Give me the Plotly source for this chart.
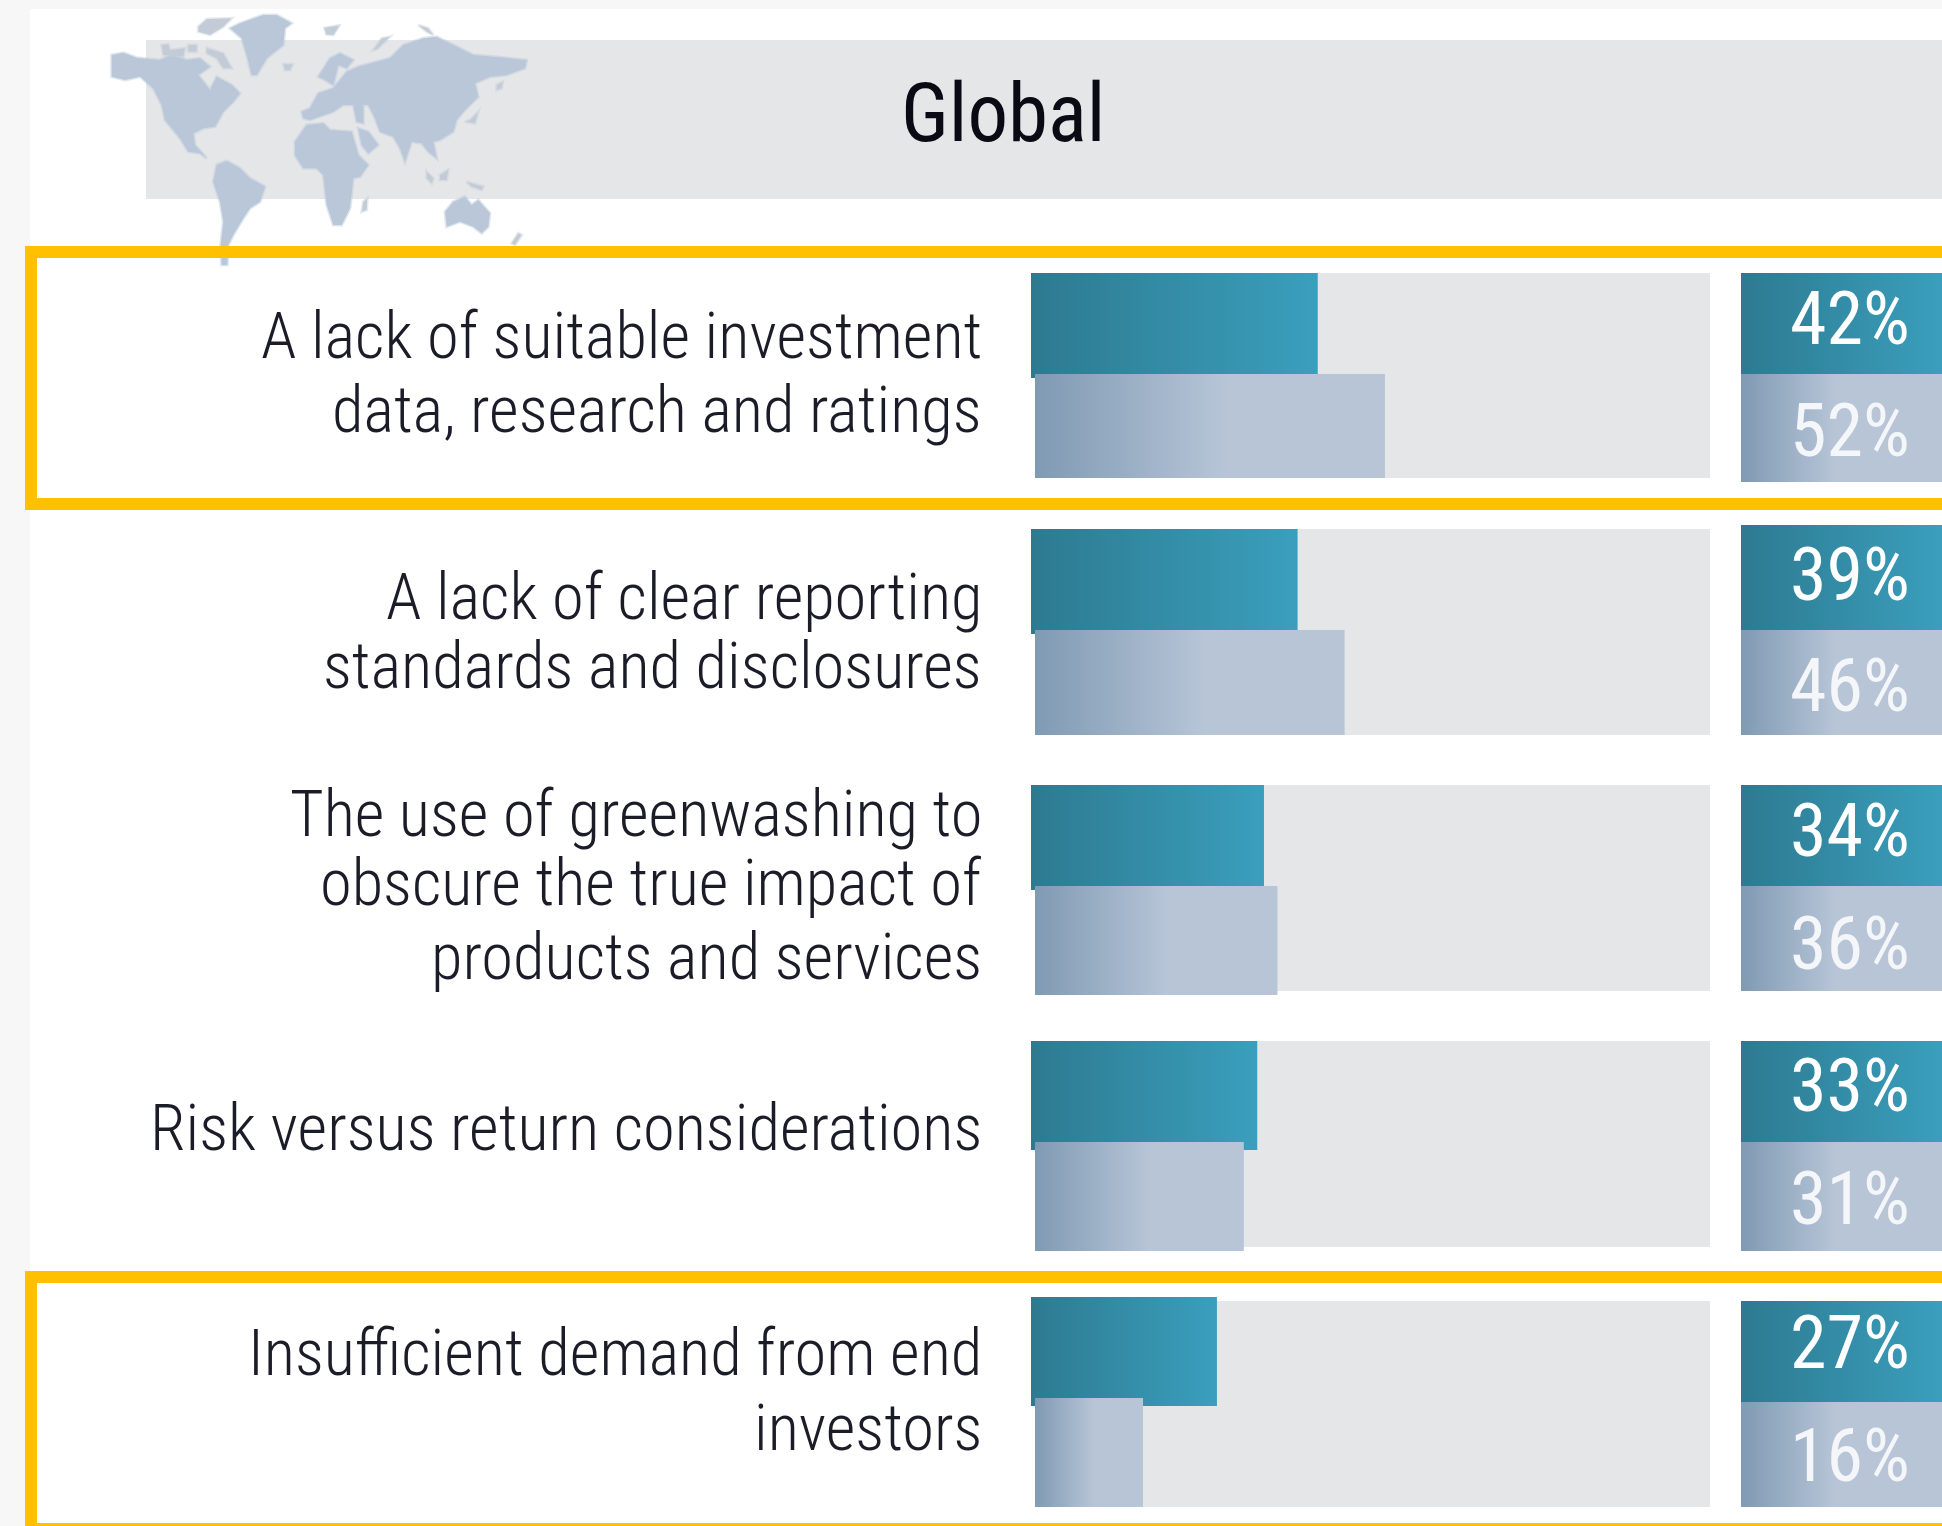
import plotly.graph_objects as go

W, H = 1942, 1526

# ---- data ----
categories = [
    "A lack of suitable investment<br>data, research and ratings",
    "A lack of clear reporting<br>standards and disclosures",
    "The use of greenwashing to<br>obscure the true impact of<br>products and services",
    "Risk versus return considerations",
    "Insufficient demand from end<br>investors",
]
series_a = [42, 39, 34, 33, 27]
series_b = [52, 46, 36, 31, 16]
title = "Global"

# ---- layout constants (pixels of the page) ----
X0, PX_PER_PCT = 1035.5, 6.72
TEAL_BASE_PX = 1031
TRACK_L = 1035
TRACK_R = 1710
BOX_L = 1741
TRACK_Y = [(273, 478), (529, 735), (785, 991), (1041, 1247), (1301, 1507)]
TEAL_Y = [(273, 378), (529, 634), (785, 890), (1041, 1150), (1297, 1406)]
BLUE_Y = [(374, 478), (630, 735), (886, 995), (1142, 1251), (1398, 1507)]
BOX_A_Y = [(273, 374), (525, 630), (785, 886), (1041, 1142), (1301, 1402)]
BOX_B_Y = [(374, 482), (630, 735), (886, 991), (1142, 1251), (1402, 1507)]
PCT_A_YC = [318, 574, 830, 1085, 1342]
PCT_B_YC = [430, 685, 943, 1198, 1455]
LINE_YC = [[336, 410], [597, 666], [814, 883, 957], [1128], [1353, 1428]]
LABEL_R = 984

TEAL_GRAD = [[0, "#2d7a90"], [1, "#3a9fbd"]]
BLUE_GRAD = [[0, "#7f9ab3"], [0.55, "#b7c5d7"], [1, "#b7c5d7"]]
TRACK = "#e5e6e8"
YELLOW = "#ffc000"
MAP = "#b9c7d9"
MAP2 = "#c3ccd6"

FONT = "Roboto Condensed, Liberation Sans Narrow, Arial Narrow, Roboto, sans-serif"


def px_to_val(px):
    return (px - X0) / PX_PER_PCT


west = [
    [(35,150),(70,143),(110,158),(180,165),(215,150),(260,165),(300,160),(330,185),(295,210),(330,255),(350,215),(395,240),(420,265),(400,290),(370,320),(345,365),(310,370),(280,385),(285,420),(320,460),(300,445),(265,440),(240,400),(195,345),(185,300),(160,250),(120,215),(75,225),(35,215)],
    [(390,70),(420,55),(490,30),(530,30),(575,55),(555,70),(550,120),(500,160),(470,210),(455,210),(440,150),(425,100)],
    [(350,480),(380,468),(420,490),(450,520),(495,545),(480,590),(450,610),(430,640),(400,690),(385,720),(382,780),(365,780),(362,720),(370,650),(360,590),(340,530)],
]
west_small = [
    [(295,65),(320,42),(395,40),(370,65),(330,90),(295,80)],
    [(185,120),(205,118),(210,135),(255,130),(250,155),(190,150)],
    [(265,120),(290,120),(290,140),(265,140)],
    [(320,130),(370,145),(395,190),(370,190),(350,160),(320,145)],
    [(550,178),(578,178),(570,195),(555,195)],
    [(675,70),(715,65),(700,90),(680,88)],
]
east = [
    [(60,310),(85,265),(130,250),(170,200),(205,185),(300,160),(340,120),(400,100),(440,95),(500,125),(550,150),(610,155),(710,165),(705,190),(650,210),(600,215),(555,235),(565,275),(520,320),(500,345),(490,380),(450,405),(430,410),(440,460),(415,440),(395,415),(365,410),(345,470),(330,430),(310,395),(270,380),(255,340),(235,300),(220,300),(220,355),(200,350),(190,300),(160,300),(130,320),(60,345),(40,340),(35,320)],
    [(205,370),(235,380),(265,420),(235,445),(215,420)],
    [(85,215),(120,160),(150,145),(190,165),(170,190),(145,180),(130,240),(105,225)],
    [(15,410),(50,360),(100,355),(120,375),(185,380),(205,450),(235,480),(210,515),(190,520),(180,610),(155,660),(130,660),(110,600),(100,510),(80,490),(40,490),(15,450)],
    [(465,620),(490,590),(525,575),(545,600),(565,585),(600,625),(595,665),(575,685),(550,665),(510,650),(470,665)],
]
east_small = [
    [(220,590),(232,580),(230,615),(215,620)],
    [(665,715),(685,685),(695,690),(675,720)],
    [(620,240),(638,230),(635,250),(620,255)],
    [(540,345),(565,320),(555,355),(525,350)],
    [(410,500),(430,520),(425,535),(410,520)],
    [(450,510),(475,495),(470,525),(450,525)],
    [(530,530),(580,545),(575,555),(545,545)],
    [(250,135),(275,100),(300,95),(262,132)],
    [(105,70),(145,62),(130,85),(110,85)],
    [(385,60),(415,70),(430,90),(410,80)],
]


def poly_path(poly, ox, oy):
    pts = [(ox + a / 3, oy + b / 3) for a, b in poly]
    return "M" + "L".join(f"{x:.1f},{y:.1f}" for x, y in pts) + "Z"


shapes = []


def rect(x0, y0, x1, y1, color):
    shapes.append(dict(type="rect", xref="x2", yref="y", x0=x0, x1=x1, y0=y0, y1=y1,
                       fillcolor=color, line_width=0, layer="below"))


rect(0, 0, W, H, "#f7f7f7")
rect(30, 9, W, H, "#ffffff")
rect(146, 40, W, 199, TRACK)
for group, color, edge, ox in ((west, MAP, "rgba(185,199,217,0.45)", 100),
                               (west_small, MAP2, "rgba(195,204,214,0.4)", 100),
                               (east, MAP, "rgba(185,199,217,0.45)", 290),
                               (east_small, MAP2, "rgba(195,204,214,0.4)", 290)):
    for poly in group:
        shapes.append(dict(type="path", xref="x2", yref="y", path=poly_path(poly, ox, 5),
                           fillcolor=color, line=dict(color=edge, width=3), layer="below"))
for top, bottom in ((252, 504), (1277, 1529)):
    shapes.append(dict(type="rect", xref="x2", yref="y", x0=31, x1=W + 40, y0=top, y1=bottom,
                       fillcolor="rgba(0,0,0,0)", line=dict(color=YELLOW, width=12), layer="below"))
for y0, y1 in TRACK_Y:
    rect(TRACK_L, y0, TRACK_R, y1, TRACK)


def grad_box(x0, x1, y0, y1, colors, xaxis="x", name=""):
    return go.Scatter(x=[x0, x1, x1, x0, x0], y=[y0, y0, y1, y1, y0], xaxis=xaxis, yaxis="y",
                      mode="lines", line=dict(width=0), fill="toself", name=name,
                      fillgradient=dict(type="horizontal", colorscale=colors),
                      hoverinfo="skip", showlegend=False)


fig = go.Figure()
base_a = px_to_val(TEAL_BASE_PX)
base_b = px_to_val(TRACK_L)
for i, cat in enumerate(categories):
    fig.add_trace(grad_box(base_a, series_a[i], *TEAL_Y[i], TEAL_GRAD, name=f"A {i}"))
    fig.add_trace(grad_box(base_b, series_b[i], *BLUE_Y[i], BLUE_GRAD, name=f"B {i}"))
    fig.add_trace(grad_box(BOX_L, W + 1, *BOX_A_Y[i], TEAL_GRAD, xaxis="x2"))
    fig.add_trace(grad_box(BOX_L, W + 1, *BOX_B_Y[i], [[0, "#7f9ab3"], [0.47, "#b7c5d7"], [1, "#b7c5d7"]], xaxis="x2"))

ann = [dict(x=1003, y=113, xref="x2", yref="y", text=title, showarrow=False,
            font=dict(family=FONT, size=81, color="#0a0a14"), xanchor="center", yanchor="middle")]
for i, cat in enumerate(categories):
    for line, yc in zip(cat.split("<br>"), LINE_YC[i]):
        ann.append(dict(x=LABEL_R, y=yc, xref="x2", yref="y", text=line, showarrow=False,
                        font=dict(family=FONT, size=64.6, color="#1c1c28", weight=300),
                        xanchor="right", yanchor="middle"))
    ann.append(dict(x=1850, y=PCT_A_YC[i], xref="x2", yref="y", text=f"{series_a[i]}%", showarrow=False,
                    font=dict(family=FONT, size=74, color="#ffffff"), xanchor="center", yanchor="middle"))
    ann.append(dict(x=1850, y=PCT_B_YC[i], xref="x2", yref="y", text=f"{series_b[i]}%", showarrow=False,
                    font=dict(family=FONT, size=74, color="#f4f6f9"), xanchor="center", yanchor="middle"))

fig.update_layout(
    width=W, height=H, margin=dict(l=0, r=0, t=0, b=0, pad=0), autosize=False,
    paper_bgcolor="#ffffff", plot_bgcolor="rgba(0,0,0,0)", showlegend=False, hovermode=False,
    shapes=shapes, annotations=ann,
    xaxis=dict(range=[px_to_val(0), px_to_val(W)], visible=False, domain=[0, 1], fixedrange=True),
    xaxis2=dict(range=[0, W], visible=False, overlaying="x", anchor="y", fixedrange=True),
    yaxis=dict(range=[H, 0], visible=False, domain=[0, 1], fixedrange=True),
)
fig.write_html("out.html", config=dict(displayModeBar=False),
               post_script="document.body.style.margin='0';document.body.style.overflow='hidden';")
